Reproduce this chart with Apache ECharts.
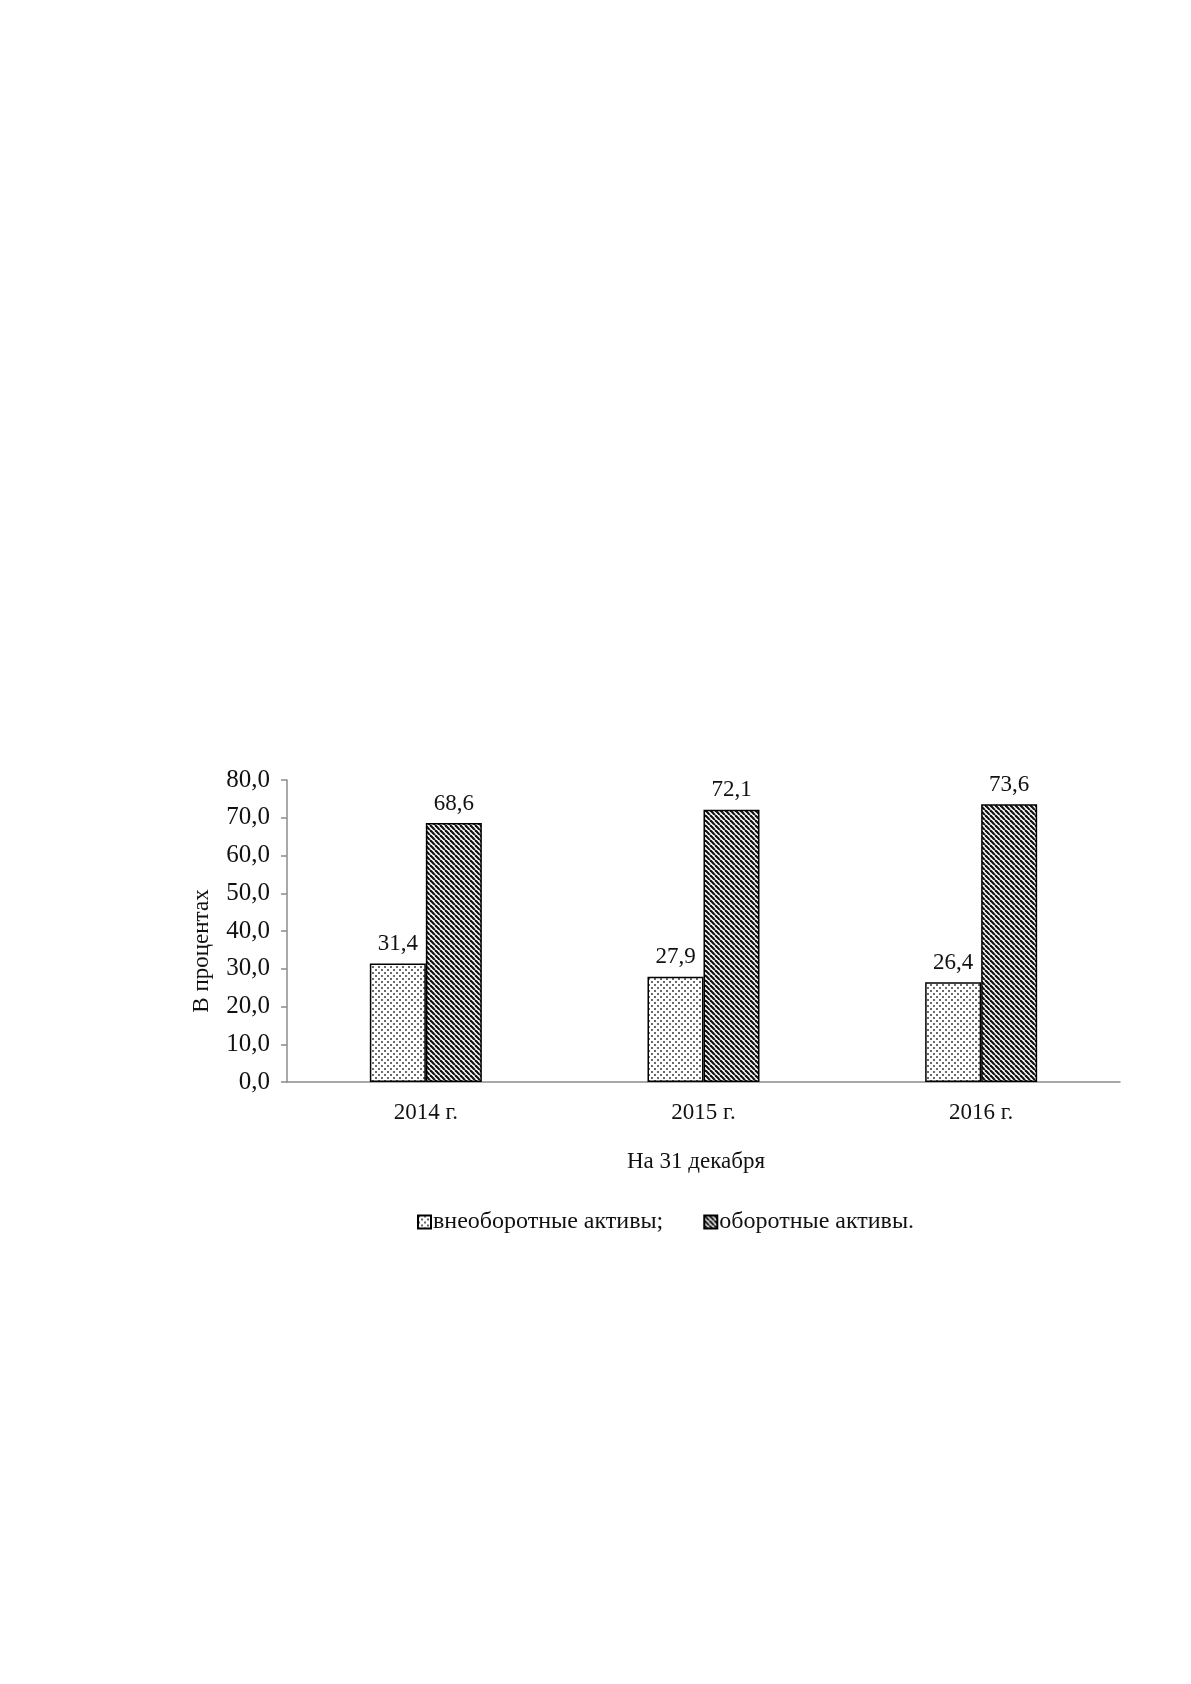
<!DOCTYPE html>
<html>
<head>
<meta charset="utf-8">
<title>Структура активов</title>
<script src="https://cdn.jsdelivr.net/npm/echarts@6/dist/echarts.min.js"></script>
<style>
  html, body { margin: 0; padding: 0; background: #fff; }
  #chart { width: 1191px; height: 1684px; }
</style>
</head>
<body>
<div id="chart"></div>
<script>
// Data
const years = ['2014 г.', '2015 г.', '2016 г.'];
const nonCurrent = [31.4, 27.9, 26.4];
const current = [68.6, 72.1, 73.6];
const seriesNames = ['внеоборотные активы;', 'оборотные активы.'];
const yTicks = { min: 0, max: 80, interval: 10 };

const FONT = '"Liberation Serif", "DejaVu Serif", serif';
const comma = (v) => Number(v).toFixed(1).replace('.', ',');

// small canvas tiles for the fills
function dotTile() {
  const s = 6;
  const c = document.createElement('canvas');
  c.width = s; c.height = s;
  const g = c.getContext('2d');
  g.fillStyle = '#ffffff';
  g.fillRect(0, 0, s, s);
  g.fillStyle = '#6a6a6a';
  g.fillRect(0, 0, 2, 2);
  g.fillRect(3, 3, 2, 2);
  return c;
}

function hatchTile() {
  const s = 5;
  const c = document.createElement('canvas');
  c.width = s; c.height = s;
  const g = c.getContext('2d');
  g.fillStyle = '#ffffff';
  g.fillRect(0, 0, s, s);
  g.strokeStyle = '#111111';
  g.lineWidth = 2.2;
  // "\" direction stripes
  for (let k = -1; k <= 1; k++) {
    g.beginPath();
    g.moveTo(k * s, 0);
    g.lineTo(k * s + s, s);
    g.stroke();
  }
  return c;
}

const dotFill = { image: dotTile(), repeat: 'repeat' };
const hatchFill = { image: hatchTile(), repeat: 'repeat' };

const labelStyle = {
  show: true,
  position: 'top',
  distance: 8,
  color: '#111',
  fontFamily: FONT,
  fontSize: 23,
  formatter: (p) => comma(p.value),
};

const chart = echarts.init(document.getElementById('chart'), null, { renderer: 'canvas' });
chart.setOption({
  animation: false,
  backgroundColor: '#ffffff',
  textStyle: { fontFamily: FONT, color: '#111' },
  grid: { left: 287, right: 71, top: 780, bottom: 602 },
  legend: {
    left: 412,
    top: 1205,
    icon: 'rect',
    itemWidth: 13,
    itemHeight: 13,
    itemGap: 40,
    textStyle: { fontFamily: FONT, fontSize: 24, color: '#111', padding: [0, 0, 0, -3] },
    data: seriesNames,
  },
  xAxis: {
    type: 'category',
    data: years,
    axisLine: { lineStyle: { color: '#8c8c8c', width: 1.5 } },
    axisTick: { show: false },
    axisLabel: { fontFamily: FONT, fontSize: 23, color: '#111', margin: 19 },
  },
  yAxis: {
    type: 'value',
    min: yTicks.min,
    max: yTicks.max,
    interval: yTicks.interval,
    name: 'В процентах',
    nameLocation: 'middle',
    nameRotate: 90,
    nameGap: 74,
    nameTextStyle: { fontFamily: FONT, fontSize: 23, color: '#111', padding: [0, 0, 0, -40] },
    axisLine: { show: true, lineStyle: { color: '#8c8c8c', width: 1.5 } },
    axisTick: { show: true, length: 6, lineStyle: { color: '#8c8c8c', width: 1.5 } },
    splitLine: { show: false },
    axisLabel: { fontFamily: FONT, fontSize: 25, color: '#111', margin: 17, formatter: comma },
  },
  graphic: [{
    type: 'text',
    x: 696,
    y: 1162,
    style: {
      text: 'На 31 декабря',
      textAlign: 'center',
      textVerticalAlign: 'middle',
      fontFamily: FONT,
      fontSize: 23,
      fill: '#111',
    },
  }],
  series: [
    {
      name: seriesNames[0],
      type: 'bar',
      data: nonCurrent,
      barWidth: 56,
      barGap: '0%',
      itemStyle: { color: dotFill, borderColor: '#000', borderWidth: 1.5 },
      label: labelStyle,
    },
    {
      name: seriesNames[1],
      type: 'bar',
      data: current,
      barWidth: 56,
      itemStyle: { color: hatchFill, borderColor: '#000', borderWidth: 1.5 },
      label: labelStyle,
    },
  ],
});
</script>
</body>
</html>
